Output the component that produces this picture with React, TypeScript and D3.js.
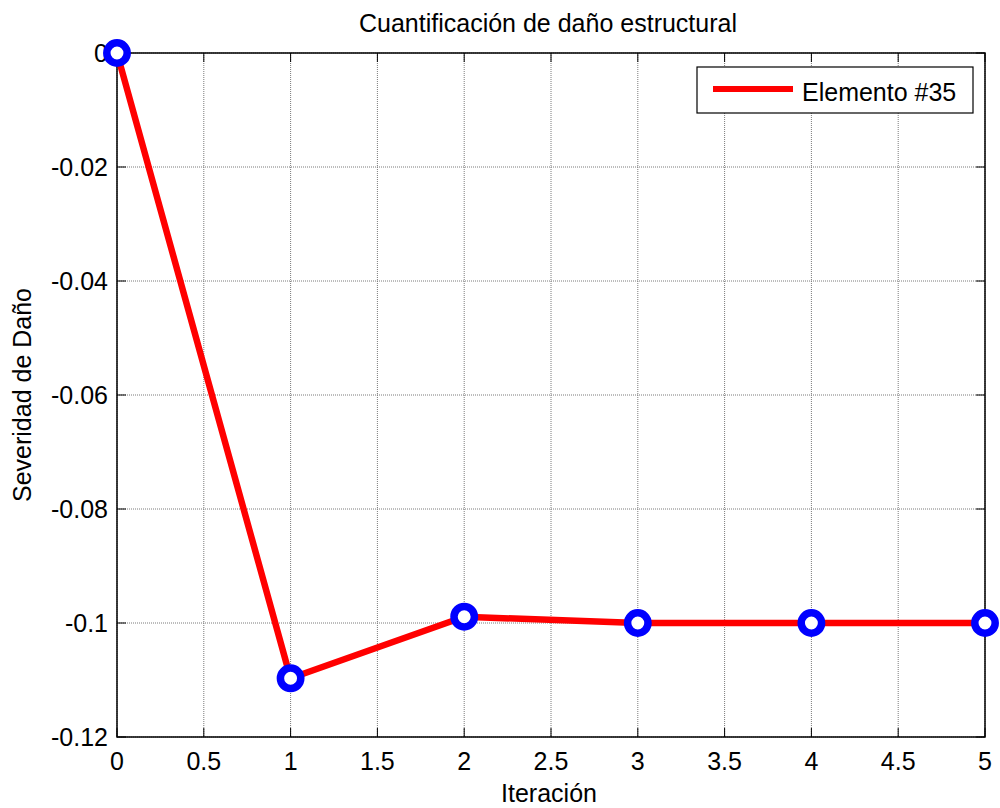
import React, { useEffect, useRef } from "react";
import * as d3 from "d3";

// Damage severity of element #35 per iteration
const iterations = [0, 1, 2, 3, 4, 5];
const severity = [0, -0.1097, -0.0989, -0.1, -0.1, -0.1];
const xTicks = [0, 0.5, 1, 1.5, 2, 2.5, 3, 3.5, 4, 4.5, 5];
const yTicks = [0, -0.02, -0.04, -0.06, -0.08, -0.1, -0.12];
const titleText = "Cuantificación de daño estructural";
const xLabelText = "Iteración";
const yLabelText = "Severidad de Daño";
const legendText = "Elemento #35";

const W = 1000;
const H = 808;
const M = { left: 117, right: 985, top: 53, bottom: 737 };
const FONT = "'Liberation Sans', Arial, sans-serif";
const FS = 25;

export default function App() {
  const ref = useRef<SVGSVGElement>(null);

  useEffect(() => {
    const svg = d3.select(ref.current);
    svg.selectAll("*").remove();

    const x = d3.scaleLinear().domain([0, 5]).range([M.left, M.right]);
    const y = d3.scaleLinear().domain([-0.12, 0]).range([M.bottom, M.top]);

    svg.append("rect").attr("width", W).attr("height", H).attr("fill", "#fff");

    // dotted grid
    const grid = svg.append("g").attr("stroke", "#7a7a7a").attr("stroke-width", 1).attr("stroke-dasharray", "1,1");
    xTicks.forEach((t) => {
      grid.append("line").attr("x1", x(t)).attr("x2", x(t)).attr("y1", M.top).attr("y2", M.bottom);
    });
    yTicks.forEach((t) => {
      grid.append("line").attr("x1", M.left).attr("x2", M.right).attr("y1", y(t)).attr("y2", y(t));
    });

    // inward ticks on all four sides
    const tl = 9;
    const ticks = svg.append("g").attr("stroke", "#000").attr("stroke-width", 1);
    xTicks.forEach((t) => {
      ticks.append("line").attr("x1", x(t)).attr("x2", x(t)).attr("y1", M.bottom).attr("y2", M.bottom - tl);
      ticks.append("line").attr("x1", x(t)).attr("x2", x(t)).attr("y1", M.top).attr("y2", M.top + tl);
    });
    yTicks.forEach((t) => {
      ticks.append("line").attr("x1", M.left).attr("x2", M.left + tl).attr("y1", y(t)).attr("y2", y(t));
      ticks.append("line").attr("x1", M.right).attr("x2", M.right - tl).attr("y1", y(t)).attr("y2", y(t));
    });

    // axes box
    svg.append("rect")
      .attr("x", M.left).attr("y", M.top)
      .attr("width", M.right - M.left).attr("height", M.bottom - M.top)
      .attr("fill", "none").attr("stroke", "#000").attr("stroke-width", 1.5);

    // tick labels
    const fmt = (v: number) => (v === 0 ? "0" : String(+v.toFixed(2)));
    svg.append("g").selectAll("text").data(xTicks).join("text")
      .attr("x", (d) => x(d)).attr("y", M.bottom + 33)
      .attr("text-anchor", "middle").attr("font-family", FONT).attr("font-size", FS)
      .text((d) => fmt(d));
    svg.append("g").selectAll("text").data(yTicks).join("text")
      .attr("x", M.left - 9).attr("y", (d) => y(d) + 9)
      .attr("text-anchor", "end").attr("font-family", FONT).attr("font-size", FS)
      .text((d) => fmt(d));

    // title and axis labels
    svg.append("text").attr("x", 548).attr("y", 32)
      .attr("text-anchor", "middle").attr("font-family", FONT).attr("font-size", FS).text(titleText);
    svg.append("text").attr("x", 549).attr("y", 802)
      .attr("text-anchor", "middle").attr("font-family", FONT).attr("font-size", FS).text(xLabelText);
    svg.append("text").attr("transform", `translate(31, ${(M.top + M.bottom) / 2}) rotate(-90)`)
      .attr("text-anchor", "middle").attr("font-family", FONT).attr("font-size", FS).text(yLabelText);

    // series line
    const pts = iterations.map((it, i) => [it, severity[i]] as [number, number]);
    const line = d3.line<[number, number]>().x((d) => x(d[0])).y((d) => y(d[1]));
    svg.append("path").datum(pts).attr("d", line)
      .attr("fill", "none").attr("stroke", "#ff0000").attr("stroke-width", 6.5).attr("stroke-linejoin", "round");

    // circle markers
    svg.append("g").selectAll("circle").data(pts).join("circle")
      .attr("cx", (d) => x(d[0])).attr("cy", (d) => y(d[1])).attr("r", 10.2)
      .attr("fill", "#fff").attr("stroke", "#0000ff").attr("stroke-width", 7.5);

    // legend
    const lg = svg.append("g");
    lg.append("rect").attr("x", 697).attr("y", 67).attr("width", 276).attr("height", 46)
      .attr("fill", "#fff").attr("stroke", "#000").attr("stroke-width", 1.2);
    lg.append("line").attr("x1", 713).attr("x2", 793).attr("y1", 89).attr("y2", 89)
      .attr("stroke", "#ff0000").attr("stroke-width", 6);
    lg.append("text").attr("x", 802).attr("y", 101).attr("font-family", FONT).attr("font-size", FS).text(legendText);
  }, []);

  return <svg ref={ref} width={W} height={H} style={{ display: "block", position: "absolute", left: 0, top: 0 }} />;
}
